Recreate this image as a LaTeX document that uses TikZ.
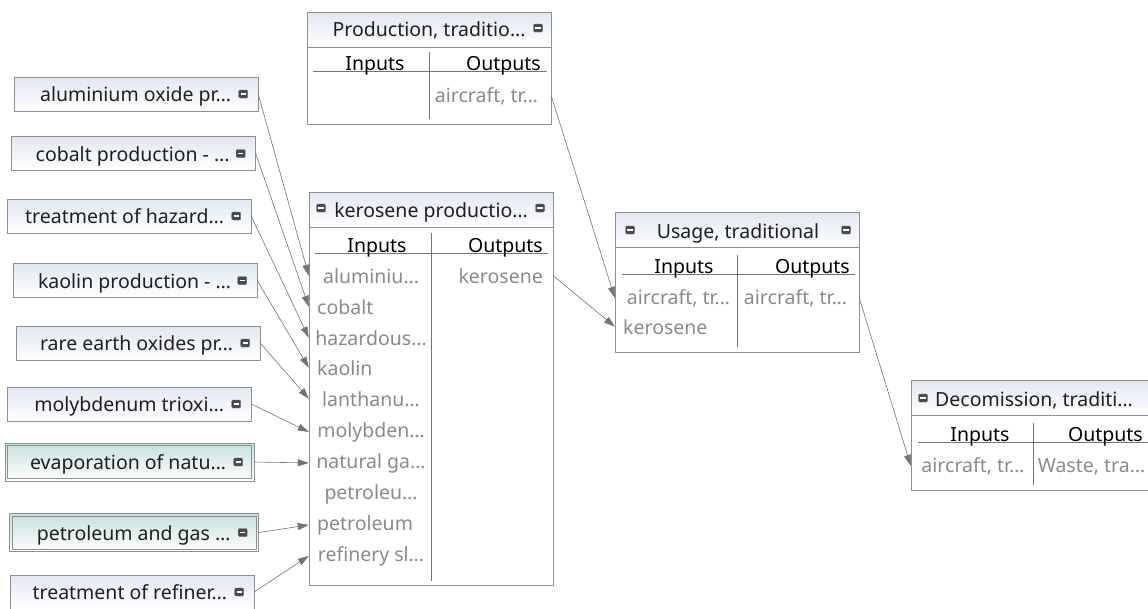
\documentclass[tikz,border=0pt]{standalone}
\usepackage{fontspec}
\setmainfont{Noto Sans}
\usetikzlibrary{arrows.meta}
\definecolor{boxgray}{HTML}{8F8F8F}
\definecolor{rowgray}{HTML}{8A8A8A}
\definecolor{linkgray}{HTML}{737373}
\definecolor{headblue}{HTML}{E1E7F2}
\definecolor{headteal}{HTML}{C6E0DD}
\definecolor{icongray}{HTML}{4A4A4A}
\newcommand{\boxfont}{\fontsize{19.5}{22}\selectfont}

\tikzset{
  procbox/.style={draw=boxgray, fill=white, minimum width=244, inner sep=0pt},
  headbox/.style={draw=boxgray, top color=headblue, bottom color=white, minimum width=244, minimum height=35, inner sep=0pt},
  srcbox/.style={draw=boxgray, top color=headblue, bottom color=white, minimum width=244, minimum height=34, inner sep=0pt},
  srcfuel/.style={srcbox, top color=headteal, minimum width=249, minimum height=38,
    path picture={\draw[boxgray] ([shift={(2.5pt,2.5pt)}]path picture bounding box.south west) rectangle ([shift={(-2.5pt,-2.5pt)}]path picture bounding box.north east);}},
  boxtext/.style={font=\boxfont, text=black!88, inner sep=0pt},
  colhead/.style={font=\boxfont, text=black, inner sep=0pt},
  rowtext/.style={font=\boxfont, text=rowgray, inner sep=0pt},
  collapse/.style={fill=icongray, draw=black!60, rounded corners=1.2pt, minimum width=9, minimum height=8, inner sep=0pt,
    path picture={\draw[white, line width=1.2pt] ([xshift=1.8pt]path picture bounding box.west) -- ([xshift=-1.8pt]path picture bounding box.east);}},
  divider/.style={draw=black!55, line width=0.8pt},
  flow/.style={draw=linkgray, line width=0.6pt, -{Triangle[length=11pt,width=7pt]}}
}

\begin{document}
\begin{tikzpicture}[x=1pt,y=-1pt]
   \useasboundingbox (0,0) rectangle (1148,608);

   \path (136,94) node[srcbox] (alu) {};
   \path (alu.east) ++(-27,7.5) node[boxtext,anchor=base east] (alut) {aluminium oxide pr…};
   \path (alu.east) ++(-15,0) node[collapse] (alui) {};
   \path (133.5,153.5) node[srcbox] (cob) {};
   \path (cob.east) ++(-26,7.5) node[boxtext,anchor=base east] (cobt) {cobalt production - …};
   \path (cob.east) ++(-15,0) node[collapse] (cobi) {};
   \path (129,216) node[srcbox] (haz) {};
   \path (haz.east) ++(-27,7.5) node[boxtext,anchor=base east] (hazt) {treatment of hazard…};
   \path (haz.east) ++(-15,0) node[collapse] (hazi) {};
   \path (135,280.5) node[srcbox] (kao) {};
   \path (kao.east) ++(-26,7.5) node[boxtext,anchor=base east] (kaot) {kaolin production - …};
   \path (kao.east) ++(-15,0) node[collapse] (kaoi) {};
   \path (138,343) node[srcbox] (rare) {};
   \path (rare.east) ++(-27,7.5) node[boxtext,anchor=base east] (raret) {rare earth oxides pr…};
   \path (rare.east) ++(-15,0) node[collapse] (rarei) {};
   \path (129,404) node[srcbox] (moly) {};
   \path (moly.east) ++(-27,7.5) node[boxtext,anchor=base east] (molyt) {molybdenum trioxi…};
   \path (moly.east) ++(-15,0) node[collapse] (molyi) {};
   \path (129.5,462) node[srcfuel] (evap) {};
   \path (evap.east) ++(-28,7.5) node[boxtext,anchor=base east] (evapt) {evaporation of natu…};
   \path (evap.east) ++(-16,0) node[collapse] (evapi) {};
   \path (134,532.5) node[srcfuel] (petro) {};
   \path (petro.east) ++(-28,7.5) node[boxtext,anchor=base east] (petrot) {petroleum and gas …};
   \path (petro.east) ++(-16,0) node[collapse] (petroi) {};
   \path (132,592) node[srcbox] (refi) {};
   \path (refi.east) ++(-27,7.5) node[boxtext,anchor=base east] (refit) {treatment of refiner…};
   \path (refi.east) ++(-15,0) node[collapse] (refii) {};

   \path (429,68) node[procbox, minimum height=112] (prod) {};
   \path (prod.north) node[headbox, anchor=north] (prodh) {};
   \path (429,36) node[boxtext, anchor=base] (prodt) {Production, traditio…};
   \path (538,28) node[collapse] (prodi) {};
   \draw[divider] (429,52) -- (429,119);
   \draw[divider] (313,71) -- (547,71);
   \path (375,70) node[colhead, anchor=base] (prodin) {Inputs};
   \path (541,70) node[colhead, anchor=base east] (prodout) {Outputs};
   \path (486.5,102) node[rowtext, anchor=base] (pout1) {aircraft, tr…};

   \path (431,388.5) node[procbox, minimum height=393] (kerbox) {};
   \path (kerbox.north) node[headbox, anchor=north] (kerh) {};
   \path (431,217) node[boxtext, anchor=base] (kert) {kerosene productio…};
   \path (321,208) node[collapse] (keril) {};
   \path (540,208) node[collapse] (kerir) {};
   \draw[divider] (431,233) -- (431,581);
   \draw[divider] (315,253) -- (548,253);
   \path (377,252) node[colhead, anchor=base] (kerin) {Inputs};
   \path (543,252) node[colhead, anchor=base east] (kerout) {Outputs};
   \path (371,283) node[rowtext, anchor=base] (kin1) {aluminiu…};
   \path (317,314) node[rowtext, anchor=base west] (kin2) {cobalt};
   \path (371,345) node[rowtext, anchor=base] (kin3) {hazardous…};
   \path (317,375) node[rowtext, anchor=base west] (kin4) {kaolin};
   \path (371,406) node[rowtext, anchor=base] (kin5) {lanthanu…};
   \path (371,437) node[rowtext, anchor=base] (kin6) {molybden…};
   \path (371,468) node[rowtext, anchor=base] (kin7) {natural ga…};
   \path (371,499) node[rowtext, anchor=base] (kin8) {petroleu…};
   \path (317,530) node[rowtext, anchor=base west] (kin9) {petroleum};
   \path (371,561) node[rowtext, anchor=base] (kin10) {refinery sl…};
   \path (543,283) node[rowtext, anchor=base east] (kout1) {kerosene};

   \path (737,282) node[procbox, minimum height=140] (usage) {};
   \path (usage.north) node[headbox, anchor=north] (useh) {};
   \path (738,238) node[boxtext, anchor=base] (uset) {Usage, traditional};
   \path (630,230) node[collapse] (useil) {};
   \path (846,230) node[collapse] (useir) {};
   \draw[divider] (737,255) -- (737,347);
   \draw[divider] (622,274) -- (855,274);
   \path (684,273) node[colhead, anchor=base] (usein) {Inputs};
   \path (850,273) node[colhead, anchor=base east] (useout) {Outputs};
   \path (678.5,304) node[rowtext, anchor=base] (uin1) {aircraft, tr…};
   \path (623,334) node[rowtext, anchor=base west] (uin2) {kerosene};
   \path (795.5,304) node[rowtext, anchor=base] (uout1) {aircraft, tr…};

   \path (1033,435) node[procbox, minimum height=110] (decom) {};
   \path (decom.north) node[headbox, anchor=north] (decoh) {};
   \path (1034,406) node[boxtext, anchor=base] (decot) {Decomission, traditi…};
   \path (923,398) node[collapse] (decoi) {};
   \draw[divider] (1033,423) -- (1033,485);
   \draw[divider] (918,442) -- (1150,442);
   \path (980,441) node[colhead, anchor=base] (decoin) {Inputs};
   \path (1143,441) node[colhead, anchor=base east] (decoout) {Outputs};
   \path (973,472) node[rowtext, anchor=base] (din1) {aircraft, tr…};
   \path (1091.5,472) node[rowtext, anchor=base] (dout1) {Waste, tra…};

   \draw[flow] (alu.east) -- (kerbox.west |- kin1);
   \draw[flow] (cob.east) -- (kerbox.west |- kin2);
   \draw[flow] (haz.east) -- (kerbox.west |- kin3);
   \draw[flow] (kao.east) -- (kerbox.west |- kin4);
   \draw[flow] (rare.east) -- (kerbox.west |- kin5);
   \draw[flow] (moly.east) -- (kerbox.west |- kin6);
   \draw[flow] (evap.east) -- (kerbox.west |- kin7);
   \draw[flow] (petro.east) -- (kerbox.west |- kin9);
   \draw[flow] (refi.east) -- (kerbox.west |- kin10);
   \draw[flow] (prod.east |- pout1) -- (usage.west |- uin1);
   \draw[flow] (kerbox.east |- kout1) -- (usage.west |- uin2);
   \draw[flow] (usage.east |- uout1) -- (decom.west |- din1);
\end{tikzpicture}
\end{document}
